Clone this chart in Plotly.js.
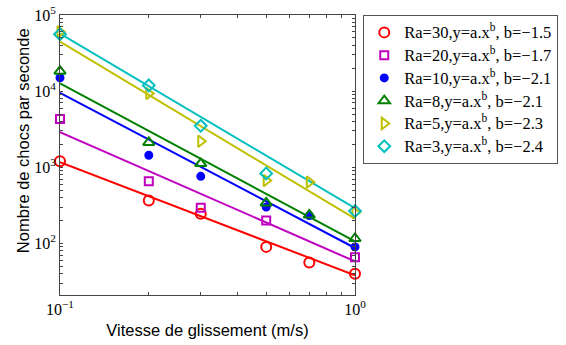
<!DOCTYPE html>
<html>
<head>
<meta charset="utf-8">
<script src="https://cdn.plot.ly/plotly-3.0.1.min.js"></script>
<style>html,body{margin:0;padding:0;background:#fff;}#chart{width:566px;height:345px;}</style>
</head>
<body>
<div id="chart"></div>
<script>
// Sliding speed (m/s)
const xVals = [0.1, 0.2, 0.3, 0.5, 0.7, 1.0];

// Measured shock rates (per second), null where no point
const ra30 = [1200, 365, 245, 90, 56, 40];
const ra20 = [4300, 655, 295, 200, null, 66];
const ra10 = [15000, 1440, 760, 300, 232, 90];
const ra8  = [18300, 2120, 1120, 340, 236, 116];
const ra5  = [60000, 9300, 2200, 670, 640, 255];
const ra3  = [56000, 11900, 3500, 830, null, 266];

// Power-law fit lines read at x = 0.1 and x = 1
const fitX = [0.1, 1.0];
const fit30 = [1170, 38];
const fit20 = [2900, 58];
const fit10 = [9500, 87];
const fit8  = [12600, 106];
const fit5  = [44600, 211];
const fit3  = [57000, 290];

const names = [
  'Ra=30,y=a.x<sup>b</sup>, b=\u22121.5',
  'Ra=20,y=a.x<sup>b</sup>, b=\u22121.7',
  'Ra=10,y=a.x<sup>b</sup>, b=\u22122.1',
  'Ra=8,y=a.x<sup>b</sup>, b=\u22122.1',
  'Ra=5,y=a.x<sup>b</sup>, b=\u22122.3',
  'Ra=3,y=a.x<sup>b</sup>, b=\u22122.4'
];
const xTitle = 'Vitesse de glissement (m/s)';
const yTitle = 'Nombre de chocs par seconde';

// Tick values / labels
const xTickVals = [0.1,0.2,0.3,0.4,0.5,0.6,0.7,0.8,0.9,1.0];
const xTickText = ['10<sup>\u22121</sup>','','','','','','','','','10<sup>0</sup>'];
const yTickVals = [30,40,50,60,70,80,90,100,200,300,400,500,600,700,800,900,
  1000,2000,3000,4000,5000,6000,7000,8000,9000,
  10000,20000,30000,40000,50000,60000,70000,80000,90000,100000];
const yTickText = yTickVals.map(v => {
  const e = Math.log10(v);
  return Math.abs(e - Math.round(e)) < 1e-9 ? '10<sup>' + Math.round(e) + '</sup>' : '';
});

const serif = '"Liberation Serif", "Times New Roman", Times, serif';
const sans = '"Liberation Sans", Arial, Helvetica, sans-serif';

const series = [ra30, ra20, ra10, ra8, ra5, ra3];
const fits = [fit30, fit20, fit10, fit8, fit5, fit3];
const colors = ['#ff0000', '#bf00bf', '#0000ff', '#008000', '#bfbf00', '#00bfbf'];
const symbols = ['circle-open', 'square-open', 'circle', 'triangle-up-open', 'triangle-right-open', 'diamond-open'];
const sizes = [10, 8, 7, 10, 10, 9];

const traces = [];
series.forEach((s, i) => {
  traces.push({
    x: fitX, y: fits[i], mode: 'lines', type: 'scatter',
    line: {color: colors[i], width: 2}, showlegend: false, hoverinfo: 'skip'
  });
});
series.forEach((s, i) => {
  traces.push({
    x: xVals, y: s, mode: 'markers', type: 'scatter',
    name: '<span style="font-size:16.5px">' + names[i] + '</span>',
    marker: {symbol: symbols[i], size: sizes[i], color: colors[i],
             line: {color: colors[i], width: 2}},
    cliponaxis: false
  });
});

const axisCommon = {
  type: 'log', showgrid: false, zeroline: false,
  showline: true, linecolor: '#444', linewidth: 1, mirror: 'ticks',
  ticks: 'inside', ticklen: 3, tickcolor: '#444', tickwidth: 1,
  tickfont: {family: serif, size: 16, color: '#000'},
  tickmode: 'array'
};

const layout = {
  width: 566, height: 345,
  margin: {l: 60, r: 211, t: 15, b: 50, autoexpand: false},
  paper_bgcolor: '#fff', plot_bgcolor: '#fff',
  showlegend: true,
  xaxis: Object.assign({}, axisCommon, {
    range: [-1, 0], tickvals: xTickVals, ticktext: xTickText,
    title: {text: xTitle, standoff: 7,
            font: {family: sans, size: 16.5, color: '#000'}}
  }),
  yaxis: Object.assign({}, axisCommon, {
    range: [Math.log10(21), 5], tickvals: yTickVals, ticktext: yTickText
  }),
  annotations: [{
    text: yTitle, xref: 'paper', yref: 'paper', x: -0.125, y: 0.55,
    xanchor: 'center', yanchor: 'middle', textangle: -90, showarrow: false,
    font: {family: sans, size: 16.5, color: '#000'}
  }],
  legend: {
    x: 1.028, y: 1.0, xanchor: 'left', yanchor: 'top',
    bgcolor: '#fff', bordercolor: '#555', borderwidth: 1,
    font: {family: serif, size: 15.2, color: '#000'},
    itemwidth: 30
  }
};

Plotly.newPlot('chart', traces, layout, {staticPlot: true, displayModeBar: false});
</script>
</body>
</html>
